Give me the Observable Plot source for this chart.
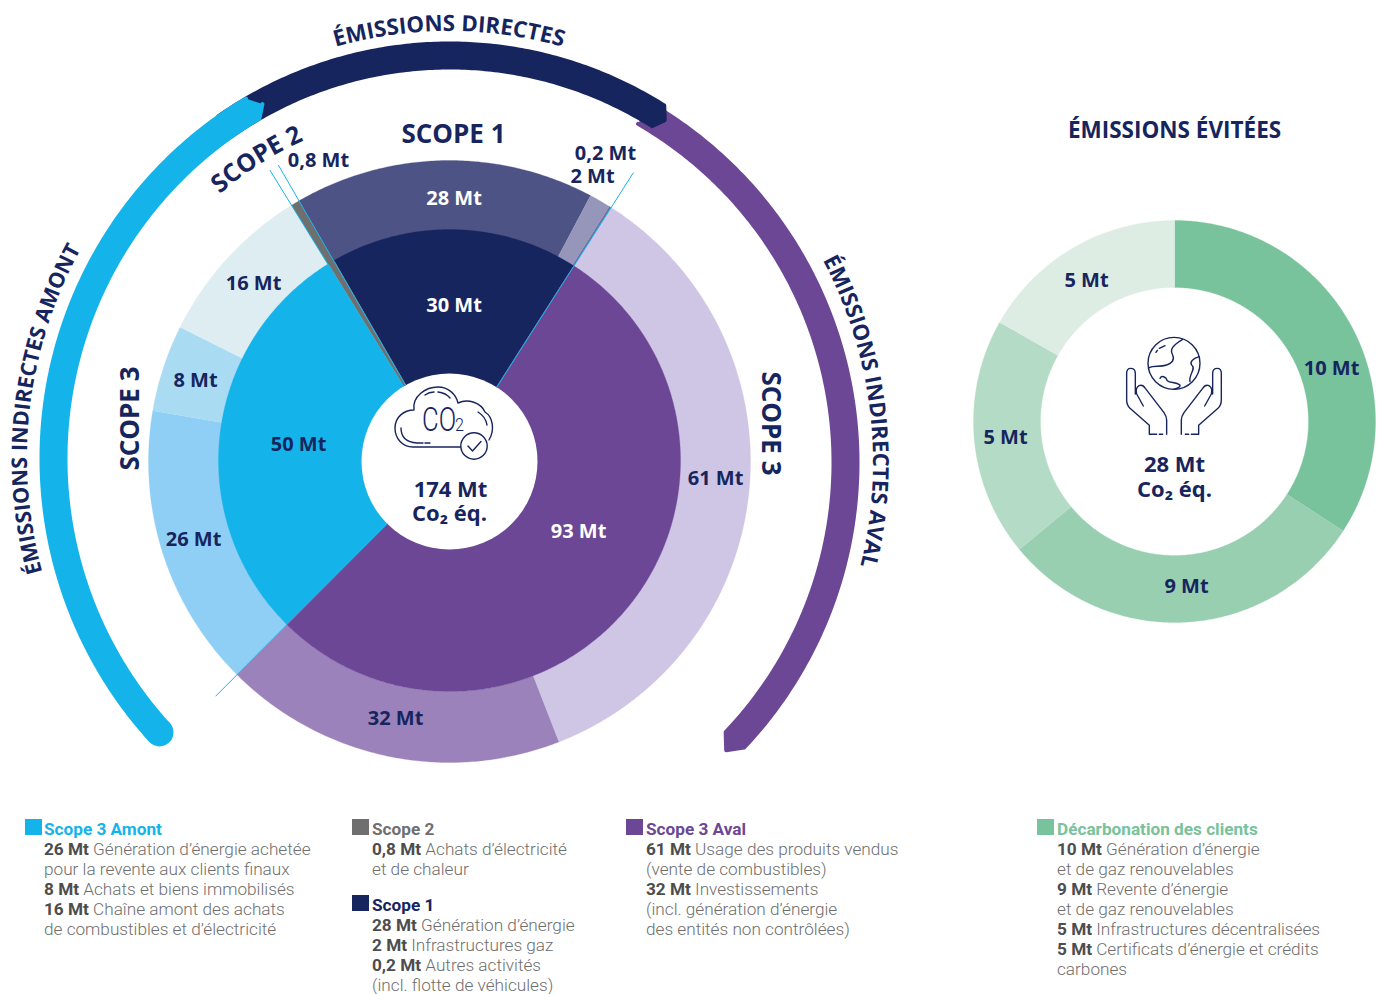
<!DOCTYPE html>
<html lang="fr">
<head>
<meta charset="utf-8">
<script src="https://cdn.jsdelivr.net/npm/d3@7"></script>
<script src="https://cdn.jsdelivr.net/npm/@observablehq/plot@0.6"></script>
<style>
  html,body{margin:0;padding:0;background:#fff;overflow:hidden}
  #chart svg{display:block;background:#fff}
  #legend{position:relative;width:1378px;height:184px;font-family:Roboto,sans-serif}
  .lg{position:absolute;white-space:nowrap;font-size:17.2px;line-height:20px;color:#6e6e6e;font-weight:300}
  .lg b{font-weight:700;color:#4d4d4d}
  .lg .t{font-weight:700}
  .sw{position:absolute;width:17px;height:16px}
</style>
</head>
<body>
<div id="chart"></div>
<div id="legend"></div>
<script>
// ---- DATA ----
// arc shares read from the picture's slice angles; printed labels kept separately
const outerValues = [28, 2, 0.2, 61, 32, 26.5, 8.1, 15.4, 0.8];
const outerLabels = ["28 Mt", "2 Mt", "0,2 Mt", "61 Mt", "32 Mt", "26 Mt", "8 Mt", "16 Mt", "0,8 Mt"];
const innerValues = [30.2, 93, 50, 0.8];
const innerLabels = ["30 Mt", "93 Mt", "50 Mt"];
const avoidedValues = [9.9, 8.66, 5.56, 4.87];
const avoidedLabels = ["10 Mt", "9 Mt", "5 Mt", "5 Mt"];
const outerColors = ["#4d5485", "#9596ba", "#6d6f9c", "#cfc5e4", "#9b82ba", "#8fcff5", "#a9dcf3", "#deedf1", "#6f6f6f"];
const innerColors = ["#17255e", "#6c4795", "#14b4eb", "#6f6f6f"];
const avoidedColors = ["#78c29c", "#98cfb1", "#b4dbc5", "#deede4"];
const legendGroups = [
  {title:"Scope 3 Amont", color:"#14b4eb", col:[25,44], top:819, lines:[["26 Mt"," Génération d’énergie achetée"],["","pour la revente aux clients finaux"],["8 Mt"," Achats et biens immobilisés"],["16 Mt"," Chaîne amont des achats"],["","de combustibles et d’électricité"]]},
  {title:"Scope 2", color:"#6f6f6f", col:[352,372], top:819, lines:[["0,8 Mt"," Achats d’électricité"],["","et de chaleur"]]},
  {title:"Scope 1", color:"#17255e", col:[352,372], top:895, lines:[["28 Mt"," Génération d’énergie"],["2 Mt"," Infrastructures gaz"],["0,2 Mt"," Autres activités"],["","(incl. flotte de véhicules)"]]},
  {title:"Scope 3 Aval", color:"#6c4795", col:[626,646], top:819, lines:[["61 Mt"," Usage des produits vendus"],["","(vente de combustibles)"],["32 Mt"," Investissements"],["","(incl. génération d’énergie"],["","des entités non contrôlées)"]]},
  {title:"Décarbonation des clients", color:"#78c29c", col:[1037,1057], top:819, lines:[["10 Mt"," Génération d’énergie"],["","et de gaz renouvelables"],["9 Mt"," Revente d’énergie"],["","et de gaz renouvelables"],["5 Mt"," Infrastructures décentralisées"],["5 Mt"," Certificats d’énergie et crédits"],["","carbones"]]}
];

// ---- LAYOUT ----
const W = 1378, H = 810;
const NAVY = "#17255e", CYAN = "#14b4eb", PURPLE = "#6c4795";
const FONT = "'Open Sans',sans-serif";
const main = {cx:449, cy:461, hole:88, out:301, start:-30};
const innerSpec = {cx:449, cy:460, r:231, start:-30};
const side = {cx:1174, cy:421, hole:134, out:201, start:0};

const polar = (c, r, a) => ({x: c[0] + r*Math.sin(a*Math.PI/180), y: c[1] - r*Math.cos(a*Math.PI/180)});
function arcPts(c, r, a0, a1){
  const n = Math.max(2, Math.ceil(Math.abs(a1-a0)/0.5));
  return d3.range(n+1).map(i => polar(c, r, a0 + (a1-a0)*i/n));
}
function sector(c, r0, r1, a0, a1){ return [...arcPts(c, r1, a0, a1), ...arcPts(c, r0, a1, a0)]; }
function ringMarks(values, colors, spec, r0, r1){
  const total = d3.sum(values);
  let acc = spec.start;
  return values.map((v,i) => {
    const a0 = acc, a1 = acc + v/total*360; acc = a1;
    return Plot.line(sector([spec.cx,spec.cy], r0, r1, a0, a1),
      {x:"x", y:"y", fill:colors[i], stroke:colors[i], strokeWidth:0.3});
  });
}
const fillPoly = (pts, color) => Plot.line(pts, {x:"x", y:"y", fill:color, stroke:color, strokeWidth:4, strokeLinejoin:"round"});

// outer bands with chevron-shaped, softly rounded ends (radii inset by half the round stroke)
const cP = [442,462], cN = [449,446], cC = [460,458];
const bandPurple = [...arcPts(cP,415,30,133.4), polar(cP,404,135.4), ...arcPts(cP,391,133.6,30)];
const bandNavy = [...arcPts(cN,403,-35,32.2), polar(cN,391,33.4), ...arcPts(cN,379,32.3,-35)];
const bandCyan = [...arcPts(cC,419,-30.8,-132.3), ...arcPts(cC,395,-132.3,-30.6), polar(cC,406,-29.2)];
const capCyan = polar(cC,407,-132.3);

// leader lines (angle follows slice boundaries)
const total = d3.sum(outerValues);
const angScope1End = main.start + (28+2+0.2)/total*360;
const angAvalEnd = angScope1End + 93/total*360;
const leaders = [
  [main.start, 342], [main.start - 0.8/total*360, 342],
  [angScope1End, 342], [angAvalEnd, 331]
];

// text placement
const slabels = [
  {t:outerLabels[0], x:453.5, y:198.5, c:"#fff"}, {t:innerLabels[0], x:453.5, y:305, c:"#fff"},
  {t:innerLabels[1], x:578, y:531, c:"#fff"},
  {t:outerLabels[3], x:715, y:478, c:NAVY}, {t:outerLabels[4], x:395, y:718, c:NAVY},
  {t:outerLabels[5], x:193, y:539, c:NAVY}, {t:outerLabels[6], x:195, y:380, c:NAVY},
  {t:outerLabels[7], x:253, y:283, c:NAVY}, {t:innerLabels[2], x:298, y:444, c:NAVY},
  {t:outerLabels[8], x:318, y:160, c:NAVY}, {t:outerLabels[2], x:605, y:153, c:NAVY}, {t:outerLabels[1], x:592, y:176, c:NAVY},
  {t:avoidedLabels[0], x:1331, y:368, c:NAVY}, {t:avoidedLabels[1], x:1186, y:586, c:NAVY},
  {t:avoidedLabels[2], x:1005, y:437, c:NAVY}, {t:avoidedLabels[3], x:1086, y:280, c:NAVY}
];
const centerLabels = [
  {t:"174 Mt", x:450, y:489, c:NAVY}, {t:"Co₂ éq.", x:449, y:513, c:NAVY},
  {t:"28 Mt", x:1174, y:464, c:NAVY}, {t:"Co₂ éq.", x:1174, y:489, c:NAVY}
];

function curved(text, c, r, a0, a1, size, color){
  return (I, s) => {
    const ns = "http://www.w3.org/2000/svg";
    const g = document.createElementNS(ns,"g");
    const id = "cp" + Math.random().toString(36).slice(2);
    const p = document.createElementNS(ns,"path");
    const pts = arcPts(c,r,a0,a1);
    p.setAttribute("id",id); p.setAttribute("fill","none");
    p.setAttribute("d","M"+pts.map(q=>s.x(q.x).toFixed(2)+","+s.y(q.y).toFixed(2)).join("L"));
    const t = document.createElementNS(ns,"text");
    t.setAttribute("font-family",FONT); t.setAttribute("font-weight","700");
    t.setAttribute("font-size",size); t.setAttribute("fill",color);
    t.setAttribute("text-anchor","middle");
    const tp = document.createElementNS(ns,"textPath");
    tp.setAttribute("href","#"+id); tp.setAttribute("startOffset","50%");
    tp.textContent = text; t.appendChild(tp);
    g.append(p,t);
    return g;
  };
}

function icons(){
  const ns = "http://www.w3.org/2000/svg";
  const g = document.createElementNS(ns,"g");
  g.setAttribute("fill","none"); g.setAttribute("stroke",NAVY);
  g.setAttribute("stroke-width","1.4"); g.setAttribute("stroke-linecap","round"); g.setAttribute("stroke-linejoin","round");
  const add = (d, parent=g) => { const p = document.createElementNS(ns,"path"); p.setAttribute("d",d); parent.appendChild(p); return p; };
  // cloud
  add("M461,447 L413,447 C402,447 395,438 395,428 C395,417 404,410 414,410 C412,396 426,387 438,387 C448,387 456,394 458,403 C468,398 481,403 485,412 C493,417 495,430 489,440");
  add("M425,395 Q429,392 434,392 M438,392 Q446,393 450,398 M478,412 Q486,417 487,425 M401,428 Q401,442 417,443 L423,443 M425,443 L430,443");
  const ck = document.createElementNS(ns,"circle");
  ck.setAttribute("cx",474); ck.setAttribute("cy",446); ck.setAttribute("r",13.2); ck.setAttribute("fill","#fff"); g.appendChild(ck);
  add("M468,446 L472.5,451 L481,441.5");
  // CO2 inside the cloud: thin, narrow letters
  const co = (txt, x, y, size, sx) => {
    const t = document.createElementNS(ns,"text");
    t.textContent = txt;
    t.setAttribute("transform",`translate(${x},${y}) scale(${sx},1)`);
    t.setAttribute("font-family","Roboto,sans-serif"); t.setAttribute("font-weight","300");
    t.setAttribute("font-size",size); t.setAttribute("fill",NAVY); t.setAttribute("stroke","none");
    t.setAttribute("text-anchor","start");
    g.appendChild(t);
  };
  co("CO", 422, 431, 33, 0.78);
  co("2", 455, 431, 18, 0.9);
  // hands + globe (reference zoom coordinates, scaled by 1/3)
  const h = document.createElementNS(ns,"g");
  h.setAttribute("transform","translate(1090,320) scale(0.3333)");
  h.setAttribute("stroke-width","4.2");
  g.appendChild(h);
  const gl = document.createElementNS(ns,"circle");
  gl.setAttribute("cx",252); gl.setAttribute("cy",130); gl.setAttribute("r",78); h.appendChild(gl);
  add("M278,58 C250,75 238,88 248,105 C255,120 245,130 230,135 C210,142 190,135 178,143",h);
  add("M210,175 C215,165 228,170 232,182 C240,190 258,185 270,195 C272,200 265,205 250,208",h);
  add("M328,110 C310,115 298,125 305,135 C320,145 295,165 300,185",h);
  add("M198,97 L202,91 M208,85 L225,77",h);
  const hand = "M178,343 L178,316 L120,265 Q110,255 110,240 L110,160 Q110,145 122,145 Q136,145 136,160 L136,222 M160,258 L140,222 Q135,205 147,197 Q158,192 166,205 L222,278 Q230,290 230,300 L230,343 M178,343 L200,343 M208,343 L218,343";
  add(hand,h);
  const m = add(hand,h); m.setAttribute("transform","translate(504,0) scale(-1,1)");
  return g;
}

const textMark = (rows, o) => Plot.text(rows, {x:"x", y:"y", text:"t", fill:"c", fontFamily:FONT, fontWeight:700, fontSize:20, ...o});

const plot = Plot.plot({
  width:W, height:H, margin:0,
  x:{domain:[0,W], range:[0,W], axis:null},
  y:{domain:[0,H], range:[0,H], axis:null},
  marks:[
    ...ringMarks(outerValues, outerColors, main, innerSpec.r-1, main.out),
    ...ringMarks(innerValues, innerColors, innerSpec, main.hole-2, innerSpec.r),
    Plot.dot([{x:main.cx,y:main.cy}], {x:"x",y:"y",r:main.hole,fill:"#fff"}),
    ...leaders.map(([a,r]) => Plot.line([polar([main.cx,main.cy],main.hole,a), polar([main.cx,main.cy],r,a)], {x:"x",y:"y",stroke:CYAN,strokeWidth:1})),
    ...ringMarks(avoidedValues, avoidedColors, side, side.hole, side.out),
    fillPoly(bandPurple, PURPLE),
    fillPoly(bandNavy, NAVY),
    fillPoly(bandCyan, CYAN),
    Plot.dot([capCyan], {x:"x",y:"y",r:14,fill:CYAN}),
    curved("ÉMISSIONS DIRECTES", cN, 415, -40, 40, 22.3, NAVY),
    curved("ÉMISSIONS INDIRECTES AMONT", cC, 433, 239.3, 314.3, 21.5, NAVY),
    curved("ÉMISSIONS INDIRECTES AVAL", cP, 431, 45.5, 120.5, 22, NAVY),
    curved("SCOPE 2", [main.cx,main.cy], 352, -50.5, -14.5, 25, NAVY),
    textMark(slabels, {}),
    textMark(centerLabels, {fontSize:22}),
    Plot.text(["SCOPE 1"], {x:()=>453, y:()=>134, text:d=>d, fill:NAVY, fontFamily:FONT, fontWeight:700, fontSize:26}),
    Plot.text(["SCOPE 3"], {x:()=>130, y:()=>418, text:d=>d, fill:NAVY, fontFamily:FONT, fontWeight:700, fontSize:26, rotate:-90}),
    Plot.text(["SCOPE 3"], {x:()=>770, y:()=>423, text:d=>d, fill:NAVY, fontFamily:FONT, fontWeight:700, fontSize:26, rotate:90}),
    Plot.text(["ÉMISSIONS ÉVITÉES"], {x:()=>1174, y:()=>130, text:d=>d, fill:NAVY, fontFamily:FONT, fontWeight:700, fontSize:22.5}),
    icons
  ]
});
document.getElementById("chart").append(plot);

// ---- LEGEND ----
const lg = document.getElementById("legend");
const off = H;
legendGroups.forEach(g => {
  const sw = document.createElement("div"); sw.className="sw";
  sw.style.cssText += `left:${g.col[0]}px;top:${g.top-off}px;background:${g.color}`;
  const d = document.createElement("div"); d.className="lg";
  d.style.left = g.col[1]+"px"; d.style.top = (g.top-off)+"px";
  const head = document.createElement("div"); head.className="t"; head.style.color=g.color; head.textContent=g.title; d.appendChild(head);
  g.lines.forEach(([b,txt]) => {
    const row = document.createElement("div");
    if(b){ const e=document.createElement("b"); e.textContent=b; row.appendChild(e); }
    row.appendChild(document.createTextNode(txt));
    d.appendChild(row);
  });
  lg.append(sw,d);
});
</script>
</body>
</html>
